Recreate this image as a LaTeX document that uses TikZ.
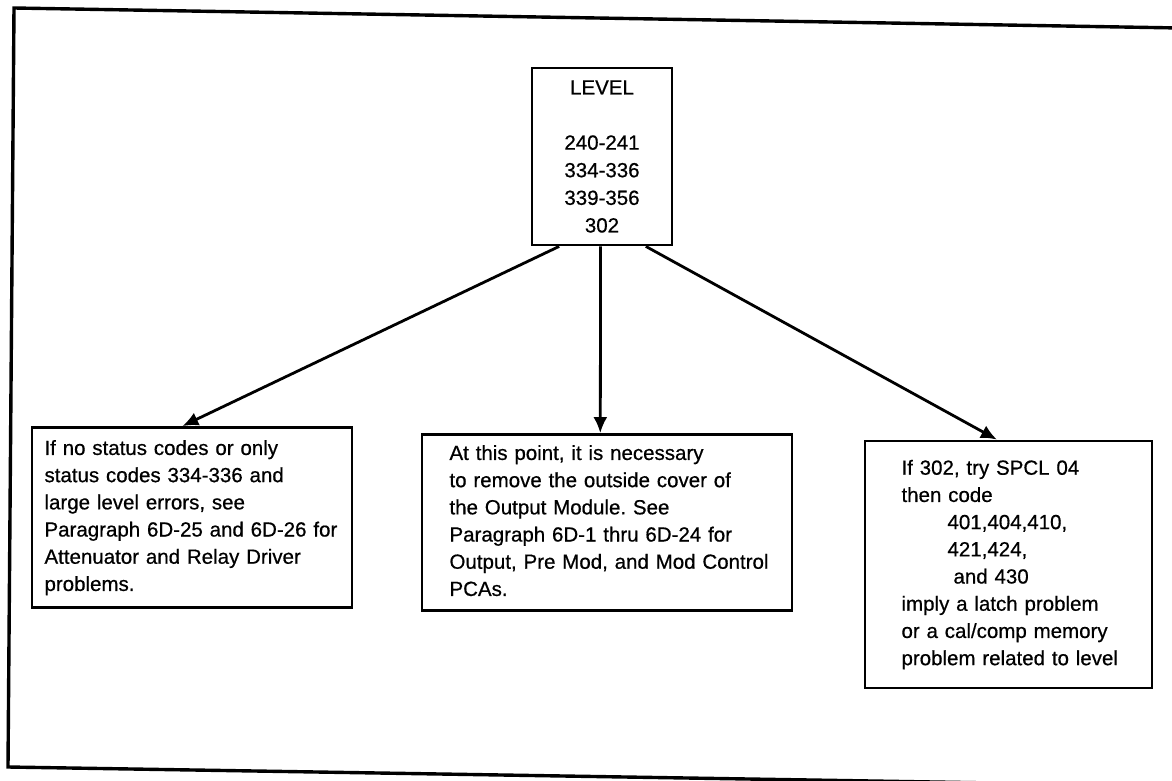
\documentclass[tikz,border=0pt]{standalone}
\usepackage{fontspec}
\setmainfont{Liberation Sans}[FakeBold=0.6]
\usetikzlibrary{calc,arrows.meta}
\frenchspacing

\tikzset{
  frameline/.style={line width=3.4pt, line cap=round},
  box/.style={draw, line width=2.8pt, inner ysep=0pt,
    font=\fontsize{20.5}{27.2}\selectfont},
  notebox/.style={box, align=left},
  conn/.style={line width=2.8pt, -{Latex[length=16pt,width=14pt]}}
}
% a block of fixed lines, never rewrapped
\newcommand{\lines}[1]{\begin{tabular}{@{}l@{}}#1\end{tabular}}

\begin{document}
\begin{tikzpicture}[x=1pt,y=-1pt]
  \useasboundingbox (0,0) rectangle (1172,781);
  \fill[white] (0,0) rectangle (1172,781);
  \clip (0,0) rectangle (1172,781);

  % outer frame (open on the right)
  \draw[frameline] (1180,28) -- (14,8) -- (8,767) -- (1180,786);

  % top box
  \node[box, align=center, minimum width=140pt, minimum height=177pt,
        font=\fontsize{20.5}{27.6}\selectfont]
    (level) at (602,156.5)
    {LEVEL\\[27.6pt]240-241\\334-336\\339-356\\302};

  % result boxes
  \node[notebox, minimum width=320pt, minimum height=180pt,
        inner xsep=11.5pt, text width=295pt]
    (left) at (192,517.5)
    {\raisebox{-3pt}{\lines{If no status codes or only\\
     status codes 334-336 and\\
     large level errors, see\\
     Paragraph 6D-25 and 6D-26 for\\
     Attenuator and Relay Driver\\
     problems.}}};

  \node[notebox, minimum width=370pt, minimum height=176pt,
        inner xsep=26.5pt, text width=315pt]
    (middle) at (607,522.5)
    {\lines{At this point, it is necessary\\
     to remove the outside cover of\\
     the Output Module. See\\
     Paragraph 6D-1 thru 6D-24 for\\
     Output, Pre Mod, and Mod Control\\
     PCAs.}};

  \node[notebox, minimum width=287pt, minimum height=247pt,
        inner xsep=35.5pt, text width=214pt]
    (right) at (1008.5,564.5)
    {\lines{If 302, try SPCL 04\\
     then code\\
     \hspace*{46pt}401,404,410,\\
     \hspace*{46pt}421,424,\\
     \hspace*{52pt}and 430\\
     imply a latch problem\\
     or a cal/comp memory\\
     problem related to level}};

  % connectors
  \draw[conn] ($(level.south west)!0.2!(level.south east)$)
           -- ($(left.north west)!0.47!(left.north east)$);
  \draw[conn] ($(level.south west)!0.49!(level.south east)$)
           -- ($(middle.north west)!0.482!(middle.north east)$);
  \draw[conn] ($(level.south west)!0.807!(level.south east)$)
           -- ($(right.north west)!0.46!(right.north east)$);
\end{tikzpicture}
\end{document}
